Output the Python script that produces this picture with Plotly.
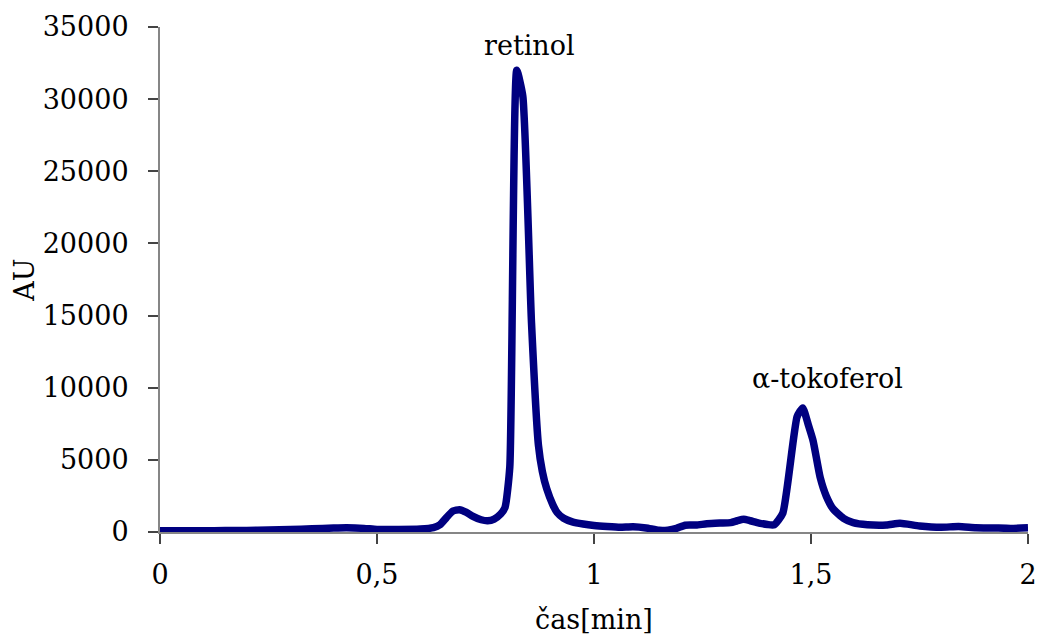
import plotly.graph_objects as go

time_min = [0, 0.05, 0.1, 0.15, 0.2, 0.25, 0.3, 0.35, 0.4, 0.43, 0.47, 0.5, 0.55, 0.6,
            0.63, 0.645, 0.66, 0.675, 0.69, 0.705, 0.72, 0.74, 0.755, 0.77, 0.785, 0.795,
            0.806, 0.822, 0.836, 0.856, 0.872, 0.881, 0.891, 0.905, 0.915, 0.93, 0.95,
            0.975, 1.0, 1.03, 1.06, 1.09, 1.12, 1.15, 1.17, 1.19, 1.21, 1.235, 1.26,
            1.29, 1.315, 1.33, 1.345, 1.36, 1.38, 1.4, 1.415, 1.435, 1.468, 1.481,
            1.494, 1.505, 1.521, 1.535, 1.551, 1.575, 1.597, 1.63, 1.674, 1.705, 1.75,
            1.8, 1.84, 1.88, 1.92, 1.96, 2.0]
signal_au = [80, 80, 90, 100, 110, 130, 170, 220, 270, 290, 250, 180, 170, 200,
             300, 500, 1000, 1450, 1550, 1380, 1100, 850, 780, 900, 1250, 1700,
             4500, 32000, 30200, 14500, 6000, 4200, 3000, 1900, 1350, 950, 700,
             550, 450, 380, 330, 360, 280, 120, 130, 250, 470, 480, 570,
             620, 650, 780, 880, 780, 620, 520, 500, 1300, 8000, 8600,
             7400, 6300, 3800, 2500, 1600, 950, 650, 500, 480, 600, 420,
             330, 380, 300, 280, 250, 290]

x_tickvals = [0, 0.5, 1, 1.5, 2]
x_ticktext = ["0", "0,5", "1", "1,5", "2"]
y_tickvals = [0, 5000, 10000, 15000, 20000, 25000, 30000, 35000]

peak_labels = ["retinol", "α-tokoferol"]
peak_label_x = [0.852, 1.539]
peak_label_y = [33750, 10670]

FONT = "DejaVu Serif"
FS = 27

fig = go.Figure()
fig.add_trace(go.Scatter(
    x=time_min, y=signal_au, mode="lines",
    line=dict(color="#000080", width=7.5, shape="spline", smoothing=0.5),
    hoverinfo="skip", showlegend=False,
))

for t, lx, ly in zip(peak_labels, peak_label_x, peak_label_y):
    fig.add_annotation(x=lx, y=ly, text=t, showarrow=False,
                       font=dict(family=FONT, size=FS, color="#000000"))

axis_common = dict(
    showgrid=False, zeroline=False, showline=True, linecolor="#868686", linewidth=2,
    ticks="outside", ticklen=10, tickwidth=1.5, tickcolor="#444444",
    tickfont=dict(family=FONT, size=FS, color="#000000"),
    automargin=False,
)

fig.update_layout(
    width=1039, height=635,
    margin=dict(l=160, r=11, t=27, b=103),
    paper_bgcolor="white", plot_bgcolor="white",
    showlegend=False,
    xaxis=dict(range=[0, 2], tickvals=x_tickvals, ticktext=x_ticktext,
               ticklabelstandoff=8,
               title=dict(text="čas[min]", font=dict(family=FONT, size=FS, color="#000000"),
                          standoff=22),
               **axis_common),
    yaxis=dict(range=[0, 35000], tickvals=y_tickvals, tickformat="d",
               ticklabelstandoff=14,
               title=dict(text="AU", font=dict(family=FONT, size=FS, color="#000000"),
                          standoff=0),
               **axis_common),
)

fig.write_html("out.html")
